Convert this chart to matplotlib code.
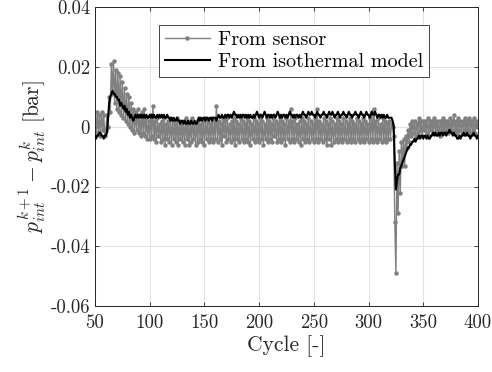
import numpy as np
import matplotlib
matplotlib.use("Agg")
import matplotlib.pyplot as plt

plt.rcParams['font.family'] = 'serif'
plt.rcParams['font.serif'] = ['cmr10']
plt.rcParams['mathtext.fontset'] = 'cm'
plt.rcParams['axes.unicode_minus'] = False
plt.rcParams['axes.formatter.use_mathtext'] = True

cycle_start, cycle_end = 50, 400

# sensor pressure difference, in mbar (1e-3 bar)
sensor_mbar = [
    0, -2, 5, -2, 4, -3, 5, -1, 4, -3,          # 50
    -1, 4, 0, 10, 5, 21, 11, 22, 8, 19,          # 60
    6, 18, 5, 17, 4, 15, 3, 13, 2, 11,           # 70
    1, 10, 0, 8, -1, 6, -2, 5, -1, 6,            # 80
    -2, 4, -3, 5, -2, 6, -3, 3, -4, 2,           # 90
    -4, 4, -3, 7, -4, 2, -5, 3, -3, 1,           # 100
    -5, 2, -4, 3, -6, 1, -4, 2, -5, 3,           # 110
    -6, 2, -4, 1, -5, 3, -6, 2, -4, 1,           # 120
    -5, 2, -6, 3, -4, 1, -6, 2, -5, 3,           # 130
    -4, 1, -6, 2, -5, 3, -4, 1, -5, 2,           # 140
    -6, 3, -4, 2, -5, 1, -4, 3, -5, 2,           # 150
    -4, 7, -5, 2, -4, 1, -6, 3, -3, 2,           # 160
    -5, 3, -4, 1, -5, 2, -4, 3, -6, 2,           # 170
    -4, 1, -5, 3, -4, 2, -5, 1, -4, 3,           # 180
    -5, 2, -6, 1, -4, 3, -5, 2, -4, 1,           # 190
    -5, 3, -4, 2, -6, 1, -4, 3, -5, 2,           # 200
    -4, 1, -5, 3, -3, 2, -5, 1, -4, 3,           # 210
    -5, 2, -4, 1, -6, 3, -4, 2, -5, 6,           # 220
    -4, 2, -5, 3, -4, 1, -5, 2, -6, 3,           # 230
    -4, 2, -5, 1, -4, 3, -5, 2, -4, 1,           # 240
    -5, 3, -4, 6, -5, 2, -4, 1, -5, 3,           # 250
    -4, 2, -6, 1, -4, 3, -6, 2, -5, 1,           # 260
    -4, 3, -5, 2, -4, 1, -5, 3, -4, 2,           # 270
    -5, 1, -4, 3, -5, 2, -4, 1, -5, 3,           # 280
    -4, 2, -5, 1, -4, 3, -5, 2, -4, 1,           # 290
    -5, 3, -4, 5, -5, 6, -4, 2, -5, 3,           # 300
    -4, 1, -5, 3, -4, 2, -5, 1, -4, 2,           # 310
    -4, 1, 0, -3, -32, -49, -12, -29, -8, -22,   # 320
    -5, -13, -4, -13, -3, -7, -1, -5, 1, -3,     # 330
    2, -2, 2, -3, 1, -2, 3, -1, 2, -3,           # 340
    2, -1, 2, -2, 3, -3, 2, -1, 2, -2,           # 350
    3, -2, 2, -1, 2, -3, 2, -1, 3, -2,           # 360
    2, -1, 2, -2, 3, -1, 2, -2, 4, -1,           # 370
    2, -2, 3, -1, 2, -2, 2, -1, 3, -2,           # 380
    2, -1, 3, -2, 2, -1, 3, -2, 2, 0,            # 390
    1,                                           # 400
]

# isothermal model pressure difference, in mbar
model_mbar = [
    -3, -4, -3, -3, -2, -2, -3, -3, -4, -3,      # 50
    -3, -2, 3, 8, 10, 11, 12, 11, 11, 10,        # 60
    10, 9, 9, 7, 8, 7, 6, 7, 5, 6,               # 70
    4, 5, 3, 4, 3, 2, 3, 4, 3, 4,                # 80
    3, 4, 3, 4, 3, 4, 3, 4, 3, 3,                # 90
    4, 3, 4, 3, 4, 3, 3, 4, 3, 4,                # 100
    3, 4, 3, 4, 3, 3, 4, 3, 3, 2,                # 110
    3, 2, 3, 2, 2, 3, 2, 2, 1, 2,                # 120
    2, 1, 2, 1, 1, 2, 1, 1, 2, 1,                # 130
    1, 2, 1, 1, 2, 3, 2, 3, 2, 3,                # 140
    3, 2, 3, 3, 2, 3, 3, 2, 3, 3,                # 150
    3, 2, 3, 4, 3, 3, 4, 3, 3, 4,                # 160
    3, 4, 4, 3, 4, 3, 4, 5, 4, 4,                # 170
    3, 4, 3, 4, 3, 4, 4, 3, 4, 3,                # 180
    4, 3, 4, 3, 3, 4, 3, 4, 5, 4,                # 190
    3, 4, 4, 3, 4, 5, 4, 3, 4, 4,                # 200
    3, 4, 3, 4, 4, 3, 4, 5, 4, 3,                # 210
    4, 3, 4, 4, 3, 4, 3, 4, 5, 4,                # 220
    4, 3, 4, 3, 4, 4, 3, 4, 3, 4,                # 230
    5, 4, 4, 3, 4, 5, 4, 4, 5, 4,                # 240
    4, 3, 4, 5, 4, 4, 3, 4, 4, 5,                # 250
    4, 4, 3, 4, 5, 4, 4, 5, 4, 3,                # 260
    4, 4, 5, 4, 3, 4, 4, 5, 4, 4,                # 270
    3, 4, 5, 4, 4, 3, 4, 4, 5, 4,                # 280
    4, 3, 4, 5, 4, 4, 3, 4, 5, 4,                # 290
    4, 3, 4, 5, 4, 4, 5, 4, 3, 4,                # 300
    4, 3, 4, 3, 4, 3, 3, 4, 3, 3,                # 310
    3, 3, 2, 0, -12, -21, -18, -16, -16, -14,    # 320
    -13, -12, -11, -10, -9, -8, -7, -7, -6, -6,  # 330
    -5, -5, -4, -5, -4, -4, -3, -4, -3, -3,      # 340
    -4, -3, -3, -4, -3, -4, -4, -3, -3, -2,      # 350
    -3, -2, -3, -3, -2, -3, -2, -2, -3, -2,      # 360
    -2, -3, -2, -2, -1, -2, -2, -3, -2, -3,      # 370
    -3, -4, -4, -3, -4, -3, -3, -2, -3, -3,      # 380
    -2, -3, -3, -4, -3, -3, -2, -3, -3, -4,      # 390
    -3,                                          # 400
]

xticks = [50, 100, 150, 200, 250, 300, 350, 400]
yticks = [-0.06, -0.04, -0.02, 0, 0.02, 0.04]
ytick_labels = ['-0.06', '-0.04', '-0.02', '0', '0.02', '0.04']

cycles = np.arange(cycle_start, cycle_end + 1)
assert len(sensor_mbar) == len(cycles), len(sensor_mbar)
assert len(model_mbar) == len(cycles), len(model_mbar)
sensor = np.array(sensor_mbar) * 1e-3
model = np.array(model_mbar) * 1e-3

fig = plt.figure(figsize=(4.92, 3.72), dpi=100)
ax = fig.add_axes([0.193, 0.177, 0.9715 - 0.193, 0.981 - 0.177])

ax.plot(cycles, sensor, color='#808080', lw=1.0, marker='o', ms=2.2,
        label='From sensor', zorder=2)
ax.plot(cycles, model, color='black', lw=1.5, label='From isothermal model', zorder=3)

ax.set_xlim(50, 400)
ax.set_ylim(-0.06, 0.04)
ax.set_xticks(xticks)
ax.set_xticklabels([str(t) for t in xticks])
ax.set_yticks(yticks)
ax.set_yticklabels(ytick_labels)
ax.grid(True, color='#e3e3e3', lw=0.8)
ax.set_axisbelow(True)
ax.tick_params(direction='in', length=3, width=0.6, top=True, right=True,
               labelsize=13.5, colors='#262626', labelcolor='#262626')
ax.tick_params(axis='x', pad=6)
for s in ax.spines.values():
    s.set_linewidth(0.7)
    s.set_color('#262626')

ax.set_xlabel('Cycle [-]', fontsize=15.5, color='#262626', labelpad=2)
ax.set_ylabel(r'$p_{int}^{k+1} - p_{int}^{k}$ [bar]', fontsize=15.5, color='#262626', labelpad=2)

leg = ax.legend(loc='upper center', bbox_to_anchor=(0.52, 0.975), fontsize=14.5,
                frameon=True, fancybox=False, edgecolor='#262626', framealpha=1,
                handlelength=2.2, borderpad=0.3, labelspacing=0.2, handletextpad=0.4)
leg.get_frame().set_linewidth(0.6)

fig.savefig('out.png', dpi=100)
